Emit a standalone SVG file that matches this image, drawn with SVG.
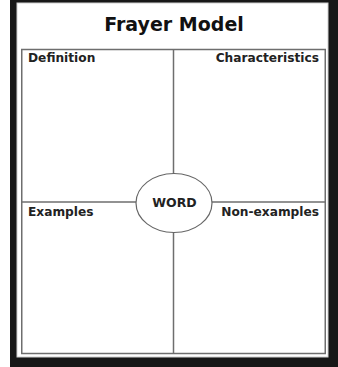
<svg xmlns="http://www.w3.org/2000/svg" width="338" height="367" viewBox="0 0 338 367">
<style>
.ln{stroke:#6e6e6e;stroke-width:1.5;fill:none}
.lbl{font-family:"DejaVu Sans",Verdana,sans-serif;font-weight:bold;font-size:12.2px;fill:#222}
</style>
<rect x="0" y="0" width="338" height="367" fill="#ffffff"/>
<rect x="10" y="0" width="328" height="367" fill="#171717"/>
<rect x="17" y="3" width="311" height="354" fill="#ffffff" stroke="#cfcfcf" stroke-width="1"/>
<text x="174" y="31" text-anchor="middle" font-family="'DejaVu Sans',Verdana,sans-serif" font-weight="bold" font-size="19" fill="#111">Frayer Model</text>
<g id="connectors">
<rect class="ln" x="21.75" y="49.5" width="303.5" height="304"/>
<line class="ln" x1="173.5" y1="49.5" x2="173.5" y2="174"/>
<line class="ln" x1="173.5" y1="232" x2="173.5" y2="353.5"/>
<line class="ln" x1="21.75" y1="202" x2="136" y2="202"/>
<line class="ln" x1="212" y1="202" x2="325.25" y2="202"/>
</g>
<g id="definition"><text class="lbl" x="28" y="62">Definition</text></g>
<g id="characteristics"><text class="lbl" x="319" y="62" text-anchor="end">Characteristics</text></g>
<g id="examples"><text class="lbl" x="28" y="216">Examples</text></g>
<g id="nonexamples"><text class="lbl" x="319" y="216" text-anchor="end">Non-examples</text></g>
<g id="word">
<ellipse cx="174" cy="203" rx="38" ry="29.5" fill="#fff" stroke="#666" stroke-width="1.2"/>
<text x="174.5" y="207" text-anchor="middle" font-family="'DejaVu Sans',Verdana,sans-serif" font-weight="bold" font-size="12.5" fill="#222">WORD</text>
</g>
</svg>
